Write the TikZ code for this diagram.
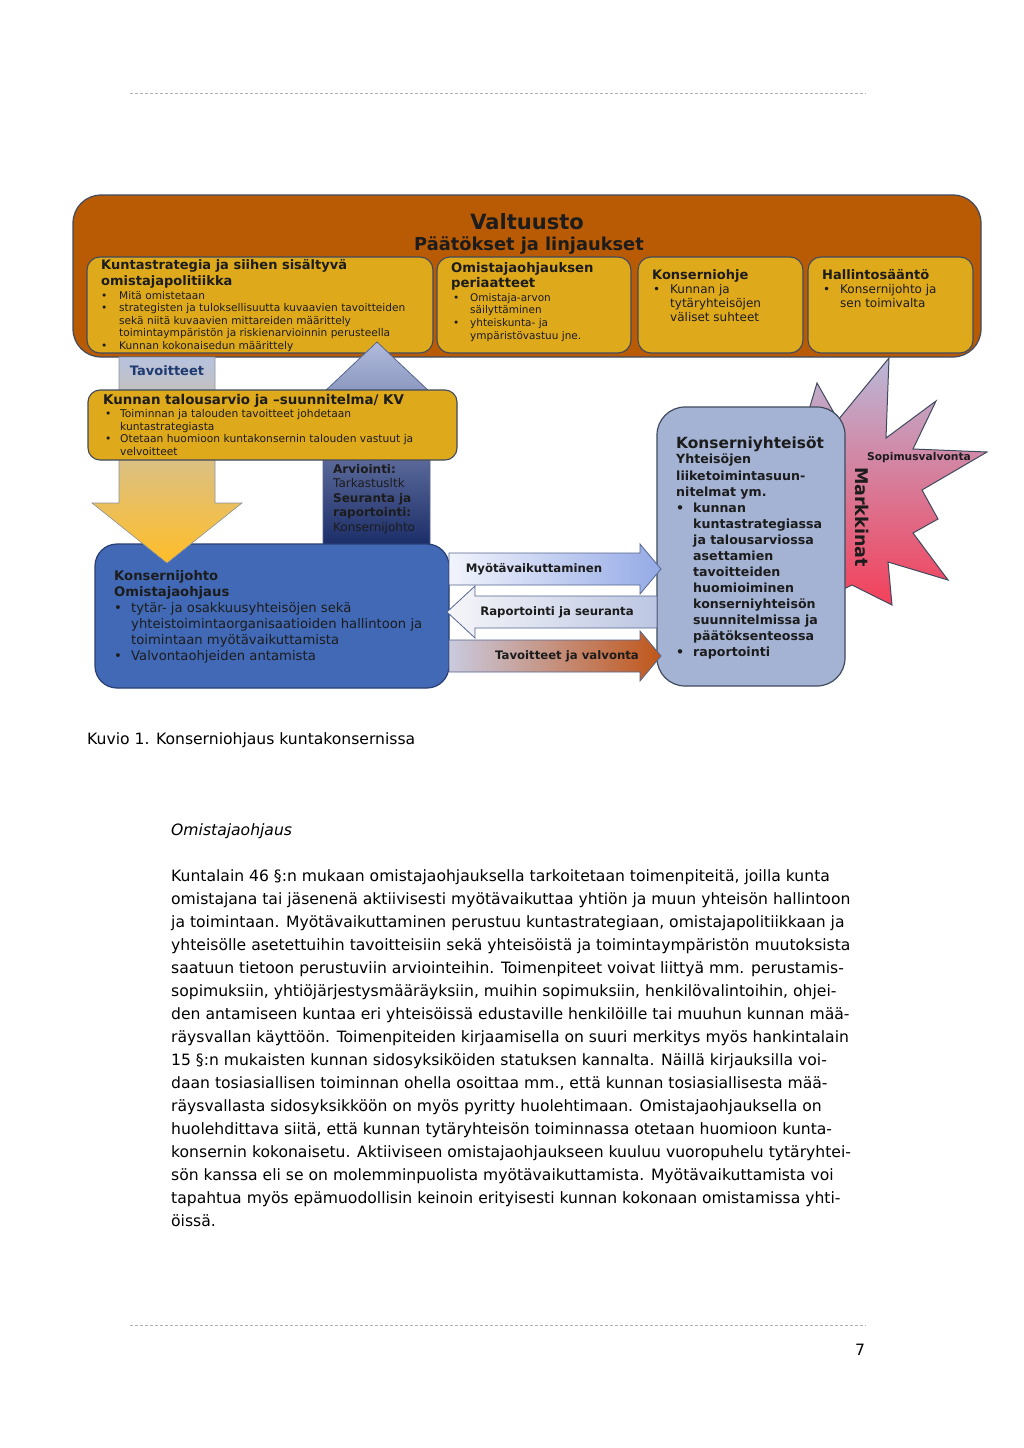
\documentclass[tikz,border=0pt]{standalone}
\usepackage{fontspec}
\setmainfont{DejaVu Sans}
\usetikzlibrary{positioning}
\definecolor{valbrown}{HTML}{B95A05}
\definecolor{gold}{HTML}{DFA91C}
\definecolor{boxline}{HTML}{3F4A5E}
\definecolor{jblue}{HTML}{4169B5}
\definecolor{jline}{HTML}{2A3E73}
\definecolor{ygray}{HTML}{A4B3D3}
\definecolor{tavblue}{HTML}{B7C2DE}
\definecolor{peach}{HTML}{F7DAAA}
\definecolor{amber}{HTML}{FFBE28}
\definecolor{uplight}{HTML}{B0BADC}
\definecolor{upnavy}{HTML}{1B2D68}
\definecolor{starlav}{HTML}{BAB8D8}
\definecolor{starred}{HTML}{F4405A}
\definecolor{arwlight}{HTML}{F2F4FC}
\definecolor{arwblue}{HTML}{94AAE6}
\definecolor{repwhite}{HTML}{F6F6F9}
\definecolor{repblue}{HTML}{BCC6E2}
\definecolor{tvgray}{HTML}{CACADF}
\definecolor{tvorange}{HTML}{C0561A}
\definecolor{ink}{HTML}{1C1C1C}
\definecolor{navytxt}{HTML}{1F3A70}
\definecolor{rulegray}{HTML}{AFAFAF}

\newcommand{\bul}[1]{\makebox[#1pt][l]{\textbullet}}
\newcommand{\cnt}[1]{\hspace*{#1pt}}

\begin{document}
\begin{tikzpicture}[x=1pt, y=-1pt,
  goldbox/.style={fill=gold, draw=boxline, line width=1.1pt, rounded corners=13pt},
  blockarrow/.style={draw=jline!80, line width=0.8pt},
  ttl/.style={text=ink, font=\fontsize{13}{16}\selectfont\bfseries, anchor=north west, align=left, inner sep=0pt},
  lst/.style={text=ink, anchor=north west, align=left, inner sep=0pt},
  arwtxt/.style={text=ink, font=\fontsize{11.7}{14}\selectfont\bfseries, inner sep=0pt},
  pagetxt/.style={text=black, font=\fontsize{15.6}{19}\selectfont, inner sep=0pt}]

\useasboundingbox (0,0) rectangle (1024,1448);
\fill[white] (0,0) rectangle (1024,1448);

% Page rules
\draw[rulegray, line width=0.9pt, dash pattern=on 2.5pt off 2.5pt] (130,93) -- (866,93);
\draw[rulegray, line width=0.9pt, dash pattern=on 2.5pt off 2.5pt] (130,1325) -- (866,1325);

% Valtuusto
\draw[fill=valbrown, draw=boxline, line width=1.2pt, rounded corners=28pt] (73,195) rectangle (981,357);
\node (valt) [text=ink, font=\fontsize{21}{24}\selectfont\bfseries] at (527,222) {Valtuusto};
\node (paat) [text=ink, font=\fontsize{17.8}{20}\selectfont\bfseries] at (529,246) {Päätökset ja linjaukset};

% Yellow boxes
\draw[goldbox] (87,257) rectangle (433,353);
\draw[goldbox] (437,257) rectangle (631,353);
\draw[goldbox] (638,257) rectangle (803,353);
\draw[goldbox] (808,257) rectangle (973,353);

\node (strat) [ttl] at (101,259) {Kuntastrategia ja siihen sisältyvä\\omistajapolitiikka};
\node (stratlist) [lst, font=\fontsize{10.6}{12.5}\selectfont] at (101,291)
  {\bul{18}Mitä omistetaan\\
   \bul{18}strategisten ja tuloksellisuutta kuvaavien tavoitteiden\\
   \cnt{18}sekä niitä kuvaavien mittareiden määrittely\\
   \cnt{18}toimintaympäristön ja riskienarvioinnin perusteella\\
   \bul{18}Kunnan kokonaisedun määrittely};

\node (periaat) [ttl, font=\fontsize{13.2}{15}\selectfont\bfseries] at (451,262) {Omistajaohjauksen\\periaatteet};
\node (periaatlist) [lst, font=\fontsize{10.5}{12.7}\selectfont] at (453,293)
  {\bul{17}Omistaja-arvon\\
   \cnt{17}säilyttäminen\\
   \bul{17}yhteiskunta- ja\\
   \cnt{17}ympäristövastuu jne.};

\node (ohje) [ttl] at (652,269) {Konserniohje};
\node (ohjelist) [lst, font=\fontsize{12}{14}\selectfont] at (653,284.5)
  {\bul{17}Kunnan ja\\
   \cnt{17}tytäryhteisöjen\\
   \cnt{17}väliset suhteet};

\node (hsaanto) [ttl] at (822,269) {Hallintosääntö};
\node (hlist) [lst, font=\fontsize{12}{14}\selectfont] at (823,284.5)
  {\bul{17}Konsernijohto ja\\
   \cnt{17}sen toimivalta};

% Markkinat star
\shadedraw[top color=starlav, bottom color=starred, draw=boxline, line width=1pt]
  (800,440) -- (817,383) -- (838,420) -- (889,358) -- (886,438) -- (936,401) -- (913,449)
  -- (987,452) -- (922,490) -- (938,519) -- (913,533) -- (948,580) -- (888,562)
  -- (892,605) -- (852,585) -- (820,600) -- cycle;

% Konserniyhteisot
\draw[fill=ygray, draw=boxline, line width=1.2pt, rounded corners=28pt] (657,407) rectangle (845,686);

% Arviointi arrow (up)
\shadedraw[top color=uplight, bottom color=upnavy, blockarrow]
  (377,342) -- (449,410) -- (430,410) -- (430,545) -- (323,545) -- (323,410) -- (305,410) -- cycle;

% Konsernijohto
\draw[fill=jblue, draw=jline, line width=1.2pt, rounded corners=22pt] (95,544) rectangle (449,688);

% Tavoitteet arrow (down)
\shadedraw[top color=tavblue, middle color=peach, bottom color=amber, draw=boxline!60, line width=0.6pt]
  (119,357) -- (215,357) -- (215,503) -- (242,503) -- (167,563) -- (92,503) -- (119,503) -- cycle;

% Talousarvio
\draw[goldbox, rounded corners=12pt] (88,390) rectangle (457,460);

% Arrows between boxes
\shadedraw[left color=arwlight, right color=arwblue, blockarrow]
  (449,553) -- (640,553) -- (640,544) -- (661,569) -- (640,594) -- (640,585) -- (449,585) -- cycle;
\shadedraw[left color=repwhite, right color=repblue, blockarrow]
  (657,596) -- (475,596) -- (475,586) -- (447,612) -- (475,638) -- (475,628) -- (657,628) -- cycle;
\shadedraw[left color=tvgray, right color=tvorange, blockarrow]
  (449,640) -- (640,640) -- (640,631) -- (661,656) -- (640,681) -- (640,672) -- (449,672) -- cycle;

% Texts
\node (tav) [text=navytxt, font=\fontsize{13}{16}\selectfont\bfseries] at (167,371) {Tavoitteet};

\node (ta) [ttl, font=\fontsize{13.4}{16}\selectfont\bfseries] at (103,394.5) {Kunnan talousarvio ja –suunnitelma/ KV};
\node (talist) [lst, font=\fontsize{10.7}{12.7}\selectfont] at (105,409)
  {\bul{15}Toiminnan ja talouden tavoitteet johdetaan\\
   \cnt{15}kuntastrategiasta\\
   \bul{15}Otetaan huomioon kuntakonsernin talouden vastuut ja\\
   \cnt{15}velvoitteet};

\node (arv) [lst, font=\fontsize{12}{14.5}\selectfont] at (333,464)
  {\textbf{Arviointi:}\\
   Tarkastusltk\\
   \textbf{Seuranta ja}\\
   \textbf{raportointi:}\\
   Konsernijohto};

\node (kjohto) [lst, font=\fontsize{13.2}{16}\selectfont] at (114,570.5)
  {\textbf{Konsernijohto}\\
   \textbf{Omistajaohjaus}\\
   \bul{17}tytär- ja osakkuusyhteisöjen sekä\\
   \cnt{17}yhteistoimintaorganisaatioiden hallintoon ja\\
   \cnt{17}toimintaan myötävaikuttamista\\
   \bul{17}Valvontaohjeiden antamista};

\node (kyht) [ttl, font=\fontsize{15.4}{17}\selectfont\bfseries] at (676,436.5) {Konserniyhteisöt};
\node (kyhtlist) [lst, font=\fontsize{12.6}{16.08}\selectfont\bfseries] at (676,454)
  {Yhteisöjen\\
   liiketoimintasuun-\\
   nitelmat ym.\\
   \bul{17}kunnan\\
   \cnt{17}kuntastrategiassa\\
   \cnt{17}ja talousarviossa\\
   \cnt{17}asettamien\\
   \cnt{17}tavoitteiden\\
   \cnt{17}huomioiminen\\
   \cnt{17}konserniyhteisön\\
   \cnt{17}suunnitelmissa ja\\
   \cnt{17}päätöksenteossa\\
   \bul{17}raportointi};

\node (sopim) [text=ink, font=\fontsize{10.7}{12}\selectfont\bfseries] at (919,458) {Sopimusvalvonta};
\node (markk) [text=ink, font=\fontsize{17.5}{20}\selectfont\bfseries, rotate=-90] at (862,517) {Markkinat};

\node (myota) [arwtxt] at (534,569) {Myötävaikuttaminen};
\node (raport) [arwtxt] at (557,612) {Raportointi ja seuranta};
\node (tavval) [arwtxt] at (567,656) {Tavoitteet ja valvonta};

% Caption and page text
\node (kuvio) [pagetxt, anchor=west] at (87,740) {Kuvio 1. Konserniohjaus kuntakonsernissa};
\node (otsikko) [pagetxt, font=\fontsize{15.6}{19}\selectfont\itshape, anchor=west] at (171,831) {Omistajaohjaus};
\node (leipa) [pagetxt, anchor=north west, align=left, font=\fontsize{15.6}{23}\selectfont] at (171,869.5)
  {Kuntalain 46 §:n mukaan omistajaohjauksella tarkoitetaan toimenpiteitä, joilla kunta\\
   omistajana tai jäsenenä aktiivisesti myötävaikuttaa yhtiön ja muun yhteisön hallintoon\\
   ja toimintaan. Myötävaikuttaminen perustuu kuntastrategiaan, omistajapolitiikkaan ja\\
   yhteisölle asetettuihin tavoitteisiin sekä yhteisöistä ja toimintaympäristön muutoksista\\
   saatuun tietoon perustuviin arviointeihin. Toimenpiteet voivat liittyä mm. perustamis-\\
   sopimuksiin, yhtiöjärjestysmääräyksiin, muihin sopimuksiin, henkilövalintoihin, ohjei-\\
   den antamiseen kuntaa eri yhteisöissä edustaville henkilöille tai muuhun kunnan mää-\\
   räysvallan käyttöön. Toimenpiteiden kirjaamisella on suuri merkitys myös hankintalain\\
   15 §:n mukaisten kunnan sidosyksiköiden statuksen kannalta. Näillä kirjauksilla voi-\\
   daan tosiasiallisen toiminnan ohella osoittaa mm., että kunnan tosiasiallisesta mää-\\
   räysvallasta sidosyksikköön on myös pyritty huolehtimaan. Omistajaohjauksella on\\
   huolehdittava siitä, että kunnan tytäryhteisön toiminnassa otetaan huomioon kunta-\\
   konsernin kokonaisetu. Aktiiviseen omistajaohjaukseen kuuluu vuoropuhelu tytäryhtei-\\
   sön kanssa eli se on molemminpuolista myötävaikuttamista. Myötävaikuttamista voi\\
   tapahtua myös epämuodollisin keinoin erityisesti kunnan kokonaan omistamissa yhti-\\
   öissä.};
\node (sivu) [pagetxt] at (860,1350) {7};

\end{tikzpicture}
\end{document}
